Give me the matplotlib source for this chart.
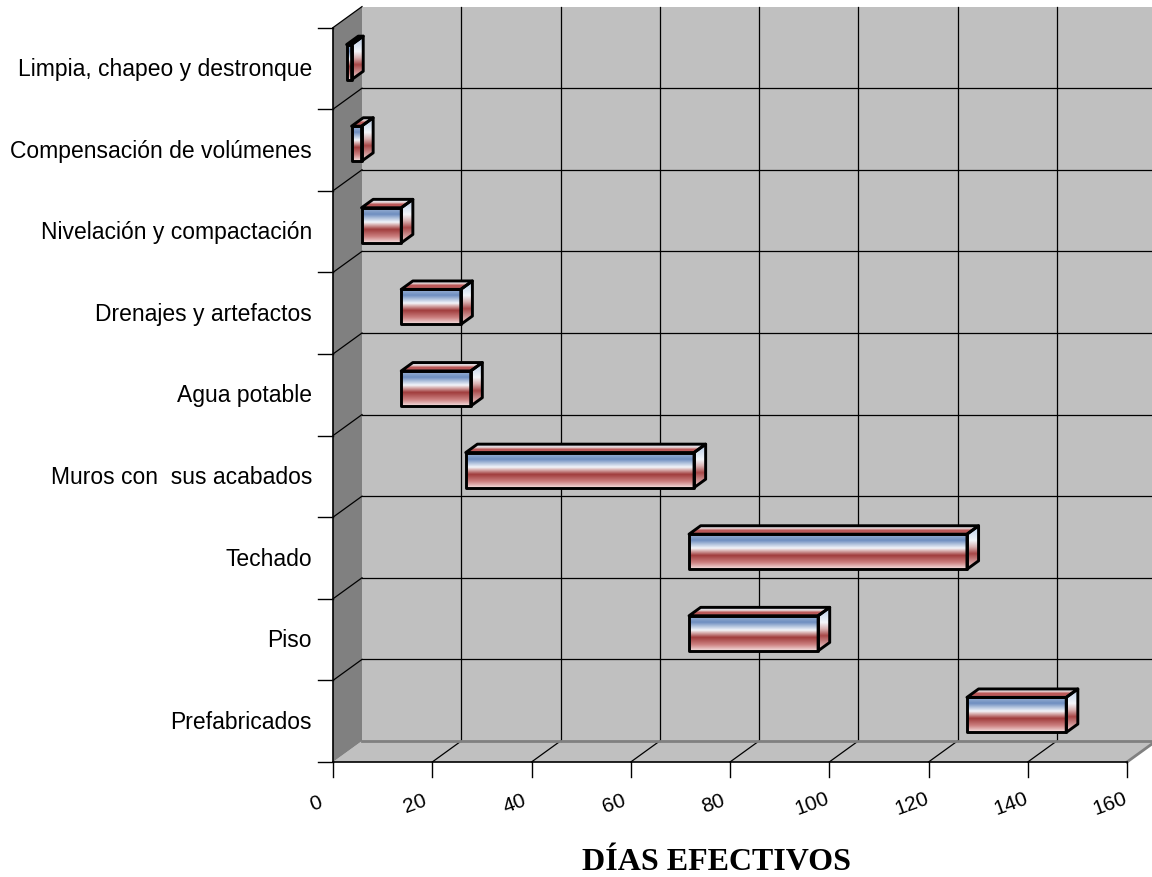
import numpy as np
import matplotlib
matplotlib.use("Agg")
import matplotlib.pyplot as plt
from matplotlib.colors import LinearSegmentedColormap
from matplotlib.patches import Polygon

# data
tasks = ["Limpia, chapeo y destronque", "Compensación de volúmenes",
         "Nivelación y compactación", "Drenajes y artefactos", "Agua potable",
         "Muros con  sus acabados", "Techado", "Piso", "Prefabricados"]
start = [1, 2, 4, 12, 12, 25, 70, 70, 126]
duration = [1, 2, 8, 12, 14, 46, 56, 26, 20]
x_ticks = [0, 20, 40, 60, 80, 100, 120, 140, 160]

# layout (pixels)
W, H = 1152, 878
X0, Y0 = 333, 763          # front origin
PX_DAY = 794 / 160
PX_ROW = 81.6
DX = 29 / PX_DAY           # wall depth offset
DY = 21 / PX_ROW
XMAX = 160
NROW = len(tasks)

fig = plt.figure(figsize=(W / 100, H / 100), dpi=100)
ax = fig.add_axes([0, 0, 1, 1])
xlim = (-X0 / PX_DAY, (W - X0) / PX_DAY)
ylim = (-(H - Y0) / PX_ROW, Y0 / PX_ROW)
ax.set_xlim(xlim)
ax.set_ylim(ylim)
ax.axis("off")


def P(x, y, d):
    return (x + d * DX, y + d * DY)


# walls
back = Polygon([P(0, 0, 1), P(XMAX, 0, 1), P(XMAX, NROW, 1), P(0, NROW, 1)],
               closed=True, fc="#c0c0c0", ec="none", zorder=1)
floor = Polygon([P(0, 0, 0), P(XMAX, 0, 0), P(XMAX, 0, 1), P(0, 0, 1)],
                closed=True, fc="#c0c0c0", ec="none", zorder=1)
left = Polygon([P(0, 0, 0), P(0, 0, 1), P(0, NROW, 1), P(0, NROW, 0)],
               closed=True, fc="#808080", ec="none", zorder=1)
for p in (back, floor, left):
    ax.add_patch(p)

# grid
for t in x_ticks[1:-1]:
    ax.plot(*zip(P(t, 0, 1), P(t, NROW, 1)), color="black", lw=0.9, zorder=2)
    ax.plot(*zip(P(t, 0, 0), P(t, 0, 1)), color="black", lw=0.9, zorder=2)
for k in range(1, NROW):
    ax.plot(*zip(P(0, k, 1), P(XMAX, k, 1)), color="black", lw=0.9, zorder=2)
for k in range(1, NROW + 1):
    ax.plot(*zip(P(0, k, 0), P(0, k, 1)), color="black", lw=0.9, zorder=2)
ax.plot(*zip(P(0, 0, 1), P(XMAX, 0, 1)), color="#808080", lw=2, zorder=2)
ax.plot(*zip(P(XMAX, 0, 0), P(XMAX, 0, 1)), color="#808080", lw=2, zorder=2)

# axes lines and ticks
ax.plot([0, XMAX], [0, 0], color="black", lw=1.2, zorder=3)
ax.plot([0, 0], [0, NROW], color="black", lw=1.2, zorder=3)
tick_len_x = 15 / PX_DAY
tick_len_y = 15 / PX_ROW
for k in range(NROW + 1):
    ax.plot([-tick_len_x, 0], [k, k], color="black", lw=1, zorder=3)
for t in x_ticks:
    ax.plot([t, t], [0, -tick_len_y], color="black", lw=1, zorder=3)
    ax.text(t - 17 / PX_DAY, -41 / PX_ROW, str(t), rotation=20,
            ha="center", va="center", fontsize=15, family="Liberation Sans")

for i, name in enumerate(tasks):
    row = NROW - 1 - i
    ax.text(-21 / PX_DAY, row + 0.5, name, ha="right", va="center",
            fontsize=16.5, family="Liberation Sans")

ax.text(xlim[0] + 716 / PX_DAY, ylim[0] + (H - 863) / PX_ROW, "DÍAS EFECTIVOS",
        ha="center", va="center", fontsize=23, fontweight="bold",
        family="Liberation Serif")

# bar shading
front_cmap = LinearSegmentedColormap.from_list("front", [
    (0.0, "#a4b9d8"), (0.2, "#6e8ec0"), (0.42, "#f4f6fa"), (0.5, "#d6aaaa"),
    (0.62, "#a03c3c"), (0.82, "#cc8080"), (1.0, "#f6e2e2")])
side_cmap = LinearSegmentedColormap.from_list("side", [
    (0.0, "#b4c8e4"), (0.35, "#f4f6fa"), (0.5, "#d8b0b0"),
    (0.65, "#a84848"), (1.0, "#f2dcdc")])
top_cmap = LinearSegmentedColormap.from_list("top", [
    (0.0, "#c4d2ea"), (0.35, "#e8dede"), (0.6, "#b85050"), (1.0, "#c46a6a")])
grad = np.linspace(0, 1, 256).reshape(-1, 1)

D_FRONT, D_BACK = 0.3, 0.7
BAR_H = 0.43


def shade(pts, cmap):
    poly = Polygon(pts, closed=True, fc="none", ec="black", lw=2.1,
                   joinstyle="round", zorder=6)
    ax.add_patch(poly)
    xs = [p[0] for p in pts]
    ys = [p[1] for p in pts]
    im = ax.imshow(grad, cmap=cmap, aspect="auto", origin="upper",
                   extent=[min(xs), max(xs), min(ys), max(ys)],
                   interpolation="bilinear", zorder=5)
    im.set_clip_path(poly)


for i, (s, d) in enumerate(zip(start, duration)):
    row = NROW - 1 - i
    y0 = row + 0.5 - BAR_H / 2
    y1 = row + 0.5 + BAR_H / 2
    x0, x1 = s, s + d
    fr = [P(x0, y0, D_FRONT), P(x1, y0, D_FRONT), P(x1, y1, D_FRONT), P(x0, y1, D_FRONT)]
    tp = [P(x0, y1, D_FRONT), P(x1, y1, D_FRONT), P(x1, y1, D_BACK), P(x0, y1, D_BACK)]
    sd = [P(x1, y0, D_FRONT), P(x1, y0, D_BACK), P(x1, y1, D_BACK), P(x1, y1, D_FRONT)]
    shade(tp, top_cmap)
    shade(sd, side_cmap)
    shade(fr, front_cmap)

ax.set_xlim(xlim)
ax.set_ylim(ylim)
fig.savefig("out.png", dpi=100)
